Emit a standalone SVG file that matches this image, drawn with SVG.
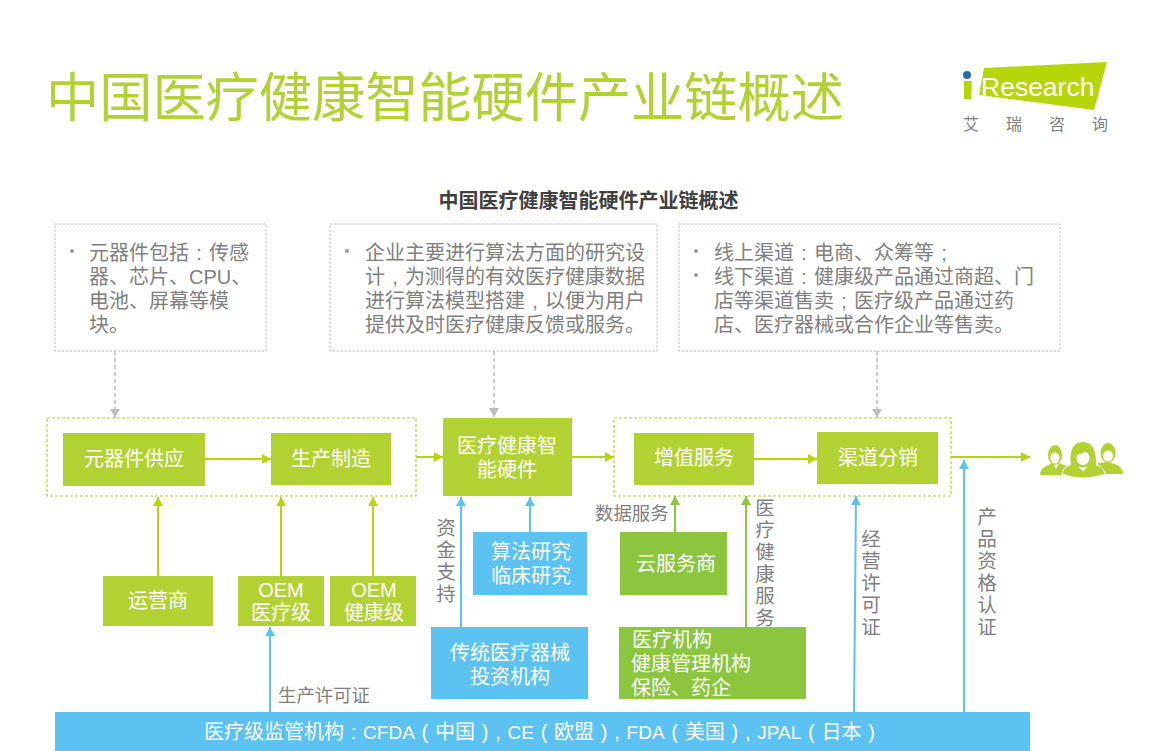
<svg xmlns="http://www.w3.org/2000/svg" width="1171" height="751" viewBox="0 0 1171 751">
<defs>
<marker id="mg" markerUnits="userSpaceOnUse" markerWidth="10" markerHeight="10" refX="9" refY="5" orient="auto"><path d="M0,0L9,5L0,10Z" fill="#b7d60a"/></marker>
<marker id="md" markerUnits="userSpaceOnUse" markerWidth="10" markerHeight="10" refX="9" refY="5" orient="auto"><path d="M0,0L9,5L0,10Z" fill="#8cc63f"/></marker>
<marker id="mb" markerUnits="userSpaceOnUse" markerWidth="10" markerHeight="10" refX="9" refY="5" orient="auto"><path d="M0,0L9,5L0,10Z" fill="#5bc2f2"/></marker>
<marker id="mx" markerUnits="userSpaceOnUse" markerWidth="10" markerHeight="10" refX="9" refY="5" orient="auto"><path d="M0,0L9,5L0,10Z" fill="#bdbdbd"/></marker>
</defs>
<style>
text{font-family:"Liberation Sans","Noto Sans CJK SC",sans-serif}
.g{fill:#b2d234}.d{fill:#8cc63f}.b{fill:#5bc2f2}
.w{fill:#fff;font-size:20px;text-anchor:middle}
.ws{fill:#fff;font-size:20px}
.reg{word-spacing:1.2px}
.la{font-size:19px}
.l{fill:#7f7f7f;font-size:18.4px}
.v{fill:#7f7f7f;font-size:19.5px;text-anchor:middle}
.t{fill:#7f7f7f;font-size:20px;word-spacing:1.7px}
.box{fill:#fff;stroke:#bdbdbd;stroke-width:1;stroke-dasharray:2.5 1.5}
.grp{fill:none;stroke:#b2d234;stroke-width:1.2;stroke-dasharray:3 2}
.cg{stroke:#b7d60a;stroke-width:2;fill:none;marker-end:url(#mg)}
.cd{stroke:#8cc63f;stroke-width:2;fill:none;marker-end:url(#md)}
.cb{stroke:#5bc2f2;stroke-width:2;fill:none;marker-end:url(#mb)}
.cx{stroke:#bdbdbd;stroke-width:1.5;stroke-dasharray:4 3;fill:none;marker-end:url(#mx)}
</style>
<rect width="1171" height="751" fill="#fff"/>
<text x="46" y="117" font-size="53.200" fill="#b2d234">中国医疗健康智能硬件产业链概述</text>
<g id="logo">
<path d="M984,68L1107,62L1094,110L979,95Z" fill="#b7d60a"/>
<circle cx="967" cy="75" r="4" fill="#2a6ab0"/>
<path d="M964,81h8l-1,18h-7z" fill="#b7d60a"/>
<text x="981" y="96" font-size="26.500" fill="#fff">Research</text>
<text x="963" y="130" font-size="16" fill="#7f7f7f">艾</text>
<text x="1006" y="130" font-size="16" fill="#7f7f7f">瑞</text>
<text x="1049" y="130" font-size="16" fill="#7f7f7f">咨</text>
<text x="1092" y="130" font-size="16" fill="#7f7f7f">询</text>
</g>
<text x="588.500" y="208" font-size="20" font-weight="bold" fill="#404040" text-anchor="middle">中国医疗健康智能硬件产业链概述</text>
<g id="note1"><rect class="box" x="55" y="224" width="211" height="127"/>
<circle cx="72" cy="251" r="2" fill="#999"/>
<text class="t" x="89" y="260">元器件包括 : 传感</text><text class="t" x="89" y="284">器、芯片、CPU、</text><text class="t" x="89" y="308">电池、屏幕等模</text><text class="t" x="89" y="332">块。</text></g>
<g id="note2"><rect class="box" x="330" y="224" width="327" height="127"/>
<circle cx="347" cy="251" r="2" fill="#999"/>
<text class="t" x="365" y="260">企业主要进行算法方面的研究设</text><text class="t" x="365" y="284">计 , 为测得的有效医疗健康数据</text><text class="t" x="365" y="308">进行算法模型搭建 , 以便为用户</text><text class="t" x="365" y="332">提供及时医疗健康反馈或服务。</text></g>
<g id="note3"><rect class="box" x="679" y="224" width="381" height="127"/>
<circle cx="696" cy="251" r="2" fill="#999"/><circle cx="696" cy="275" r="2" fill="#999"/>
<text class="t" x="714" y="260">线上渠道 : 电商、众筹等 ;</text><text class="t" x="714" y="284">线下渠道 : 健康级产品通过商超、门</text><text class="t" x="714" y="308">店等渠道售卖 ; 医疗级产品通过药</text><text class="t" x="714" y="332">店、医疗器械或合作企业等售卖。</text></g>
<g id="group1"><rect class="grp" x="47" y="418" width="369" height="78"/></g>
<g id="group2"><rect class="grp" x="614" y="418" width="337" height="78"/></g>
<g id="connectors">
<path class="cx" d="M115,351V418"/><path class="cx" d="M494,351V417"/><path class="cx" d="M877,351V418"/>
<path class="cg" d="M205,459H271"/><path class="cg" d="M416,457H443"/><path class="cg" d="M572,457H614"/>
<path class="cg" d="M754,459H817"/><path class="cg" d="M951,457H1030"/>
<path class="cg" d="M158,576V497"/><path class="cg" d="M281,576V497"/><path class="cg" d="M373,576V497"/>
<path class="cd" d="M675,532V496"/><path class="cd" d="M746,627V496"/>
<path class="cb" d="M461,627V497"/><path class="cb" d="M530,532V497"/>
<path class="cb" d="M270,712V627"/>
<path class="cb" d="M854,712L856,496"/><path class="cb" d="M964,712V460"/>
</g>
<g id="n1"><rect class="g" x="63" y="433" width="142" height="53"/><text class="w" x="134" y="466">元器件供应</text></g>
<g id="n2"><rect class="g" x="271" y="433" width="120" height="52"/><text class="w" x="331" y="466">生产制造</text></g>
<g id="n3"><rect class="g" x="443" y="418" width="129" height="78"/><text class="w" x="507" y="453">医疗健康智</text><text class="w" x="507" y="477">能硬件</text></g>
<g id="n4"><rect class="g" x="634" y="433" width="120" height="52"/><text class="w" x="694" y="465">增值服务</text></g>
<g id="n5"><rect class="g" x="817" y="432" width="121" height="52"/><text class="w" x="878" y="465">渠道分销</text></g>
<g id="n6"><rect class="g" x="103" y="576" width="110" height="50"/><text class="w" x="158" y="608">运营商</text></g>
<g id="n7"><rect class="g" x="238" y="576" width="86" height="50"/><text class="w" x="281" y="597">OEM</text><text class="w" x="281" y="620">医疗级</text></g>
<g id="n8"><rect class="g" x="330" y="576" width="86" height="50"/><text class="w" x="374" y="597">OEM</text><text class="w" x="374" y="620">健康级</text></g>
<g id="n9"><rect class="b" x="473" y="532" width="114" height="63"/><text class="w" x="531" y="559">算法研究</text><text class="w" x="531" y="583">临床研究</text></g>
<g id="n10"><rect class="b" x="431" y="627" width="157" height="72"/><text class="w" x="510" y="660">传统医疗器械</text><text class="w" x="510" y="684">投资机构</text></g>
<g id="n11"><rect class="d" x="620" y="532" width="107" height="63"/><text class="w" x="676" y="571">云服务商</text></g>
<g id="n12"><rect class="d" x="619" y="627" width="187" height="72"/><text class="ws" x="632" y="647">医疗机构</text><text class="ws" x="631" y="671">健康管理机构</text><text class="ws" x="631" y="695">保险、药企</text></g>
<g id="n13"><rect class="b" x="55" y="712" width="975" height="39"/><text class="ws reg" x="204" y="739">医疗级监管机构 : <tspan class="la">CFDA</tspan> ( 中国 ) , <tspan class="la">CE</tspan> ( 欧盟 ) , <tspan class="la">FDA</tspan> ( 美国 ) , <tspan class="la">JPAL</tspan> ( 日本 )</text></g>
<g id="labels">
<text class="l" x="278" y="702">生产许可证</text>
<text class="l" x="595" y="520">数据服务</text>
<text class="v" x="446" y="535">资</text><text class="v" x="446" y="557">金</text><text class="v" x="446" y="579">支</text><text class="v" x="446" y="601">持</text>
<text class="v" x="765" y="515">医</text><text class="v" x="765" y="537">疗</text><text class="v" x="765" y="559">健</text><text class="v" x="765" y="581">康</text><text class="v" x="765" y="603">服</text><text class="v" x="765" y="625">务</text>
<text class="v" x="871" y="546">经</text><text class="v" x="871" y="568">营</text><text class="v" x="871" y="590">许</text><text class="v" x="871" y="612">可</text><text class="v" x="871" y="634">证</text>
<text class="v" x="987" y="524">产</text><text class="v" x="987" y="546">品</text><text class="v" x="987" y="568">资</text><text class="v" x="987" y="590">格</text><text class="v" x="987" y="612">认</text><text class="v" x="987" y="634">证</text>
</g>
<g id="people" fill="#b2d234">
<path d="M1040,475q0,-6 6,-9l7,-3l3,6l3,-6l8,3q5,3 6,9z"/>
<ellipse cx="1055" cy="455" rx="7" ry="10"/>
<ellipse cx="1055" cy="458" rx="4.500" ry="5.500" fill="#fff"/>
<path d="M1098,463l11,-1l8,3q6,3 6,9h-25z"/>
<ellipse cx="1108" cy="453" rx="7.500" ry="10"/>
<ellipse cx="1108" cy="456" rx="5" ry="5.500" fill="#fff"/>
<path d="M1062,474q1,-7 8,-9l5,-2l8,8l8,-8l6,2q7,2 8,9q-10,4 -22,4t-21,-4z" stroke="#fff" stroke-width="1"/>
<path d="M1071,466q-3,-24 12,-24q14,0 13,24q-13,2 -25,0z"/>
<ellipse cx="1083" cy="458" rx="6.500" ry="7" fill="#fff"/>
<path d="M1076,455q7,-1 11,-5q2,3 3,5v-6h-14z"/>
</g>
</svg>
